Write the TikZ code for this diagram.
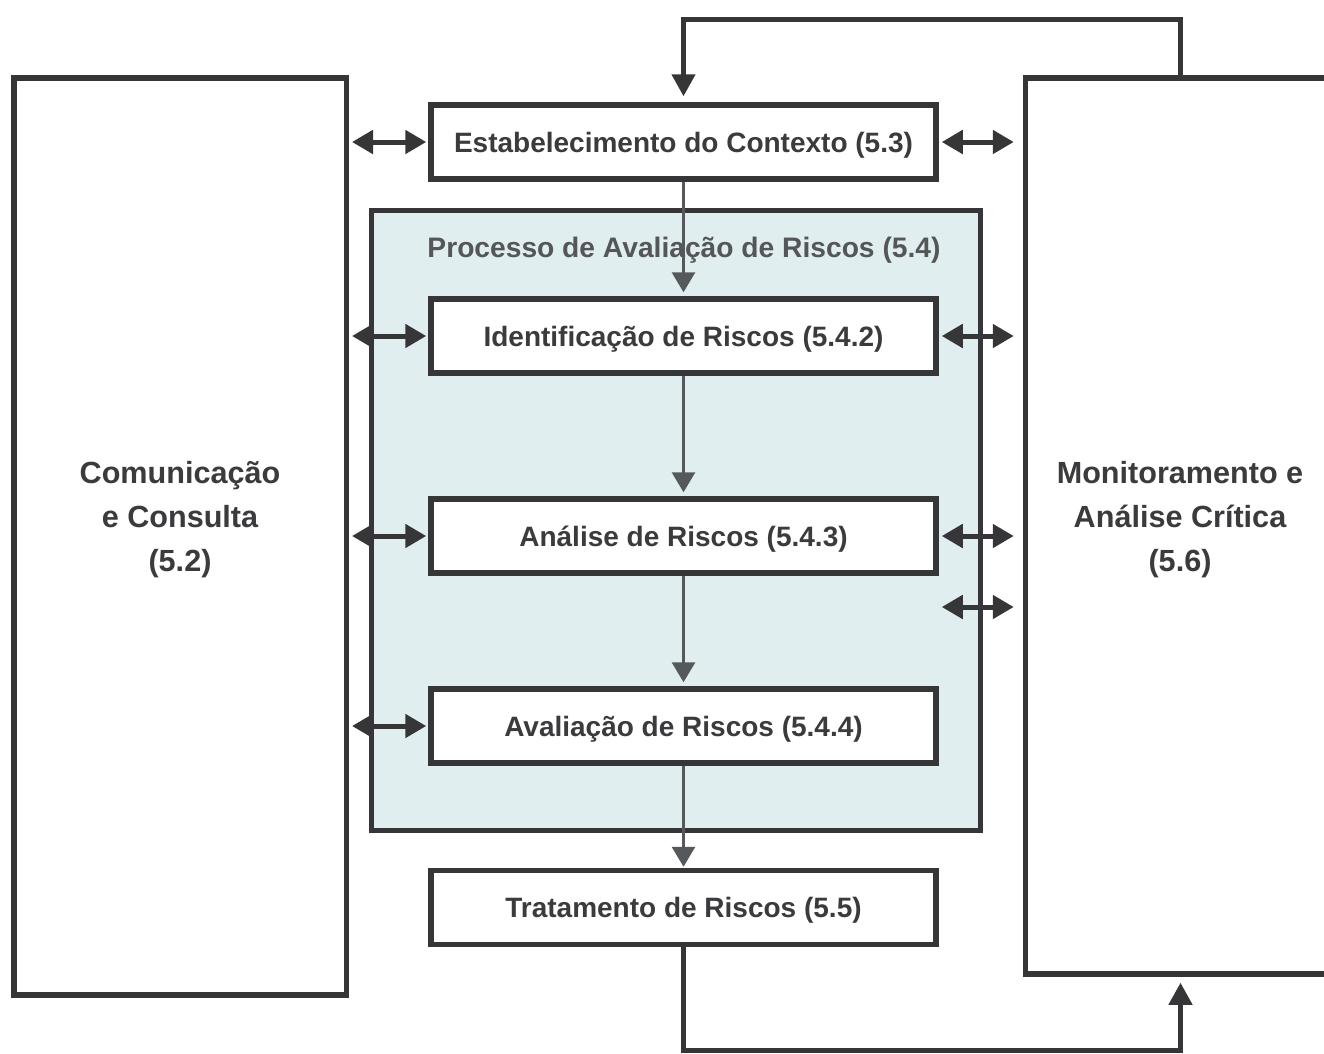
\documentclass[tikz,border=0pt]{standalone}
\usepackage{fontspec}
\setmainfont{Liberation Sans}
\usetikzlibrary{arrows.meta}

\definecolor{boxline}{HTML}{363638}
\definecolor{boxtext}{HTML}{3B3B3E}
\definecolor{procfill}{HTML}{E0EEF0}
\definecolor{flowgray}{HTML}{55595C}
\definecolor{titlegray}{HTML}{555658}

\begin{document}
\begin{tikzpicture}[x=1pt, y=-1pt,
	mainbox/.style={draw=boxline, line width=5.5pt, fill=white, inner sep=0pt,
		minimum width=505pt, minimum height=74pt, text height=20pt, text depth=0pt,
		font=\fontsize{28}{33}\selectfont\bfseries, text=boxtext},
	sidebox/.style={draw=boxline, line width=5.5pt, fill=white, inner sep=0pt},
	sidetext/.style={align=center, font=\fontsize{30.6}{44}\selectfont\bfseries, text=boxtext},
	procbox/.style={draw=boxline, line width=5pt, fill=procfill, inner sep=0pt,
		minimum width=609pt, minimum height=620pt},
	dblarrow/.style={draw=boxline, line width=5pt,
		{Triangle[width=23pt,length=21pt]}-{Triangle[width=23pt,length=21pt]}},
	flowarrow/.style={draw=flowgray, line width=3pt, -{Triangle[width=23pt,length=20pt]}},
	backarrow/.style={draw=boxline, line width=4.5pt, -{Triangle[width=23pt,length=22pt]}}]

	% Page frame (the right box runs off the page)
	\clip (0,0) rectangle (1324,1053);

	% Draw the side boxes
	\node[sidebox, minimum width=332.5pt, minimum height=917pt] (com) at (180,536.5) {};
	\node[sidetext] (comtxt) at (180,520) {Comunica\c{c}\~ao\\e Consulta\\(5.2)};
	\node[sidebox, minimum width=310pt, minimum height=896pt] (mon) at (1180.5,526) {};
	\node[sidetext] (montxt) at (1180,520) {Monitoramento e\\An\'alise Cr\'itica\\(5.6)};

	% Draw the assessment container
	\node[procbox] (proc) at (676,520) {};
	\node[font=\fontsize{28.2}{33}\selectfont\bfseries, text=titlegray] (proctitle) at (684,250)
		{Processo de Avalia\c{c}\~ao de Riscos (5.4)};

	% Draw the process steps
	\node[mainbox] (ctx) at (683.5,142) {Estabelecimento do Contexto (5.3)};
	\node[mainbox] (ident) at (683.5,336) {Identifica\c{c}\~ao de Riscos (5.4.2)};
	\node[mainbox] (anal) at (683.5,536) {An\'alise de Riscos (5.4.3)};
	\node[mainbox] (aval) at (683.5,726) {Avalia\c{c}\~ao de Riscos (5.4.4)};
	\node[mainbox] (trat) at (683.5,907.5) {Tratamento de Riscos (5.5)};

	% Draw the flow between the steps
	\draw[flowarrow, shorten >=4pt] (ctx.south) -- (ident.north);
	\draw[flowarrow, shorten >=4pt] (ident.south) -- (anal.north);
	\draw[flowarrow, shorten >=4pt] (anal.south) -- (aval.north);
	\draw[flowarrow, shorten >=1pt] (aval.south) -- (trat.north);

	% Draw the arrows to the left box
	\draw[dblarrow, shorten <=3pt, shorten >=2pt] (com.east |- ctx.west) -- (ctx.west);
	\draw[dblarrow, shorten <=3pt, shorten >=2pt] (com.east |- ident.west) -- (ident.west);
	\draw[dblarrow, shorten <=3pt, shorten >=2pt] (com.east |- anal.west) -- (anal.west);
	\draw[dblarrow, shorten <=3pt, shorten >=2pt] (com.east |- aval.west) -- (aval.west);

	% Draw the arrows to the right box
	\draw[dblarrow, shorten <=3pt, shorten >=9pt] (ctx.east) -- (mon.west |- ctx.east);
	\draw[dblarrow, shorten <=3pt, shorten >=9pt] (ident.east) -- (mon.west |- ident.east);
	\draw[dblarrow, shorten <=3pt, shorten >=9pt] (anal.east) -- (mon.west |- anal.east);
	\coordinate (extra) at ([yshift=-71pt]anal.east);
	\draw[dblarrow, shorten <=3pt, shorten >=9pt] (extra) -- (mon.west |- extra);

	% Draw the feedback loops
	\draw[backarrow, shorten >=6pt] (mon.north) -- ++(0,-56) -| (ctx.north);
	\draw[backarrow, shorten >=6pt] (trat.south) -- ++(0,103) -| (mon.south);

\end{tikzpicture}
\end{document}
